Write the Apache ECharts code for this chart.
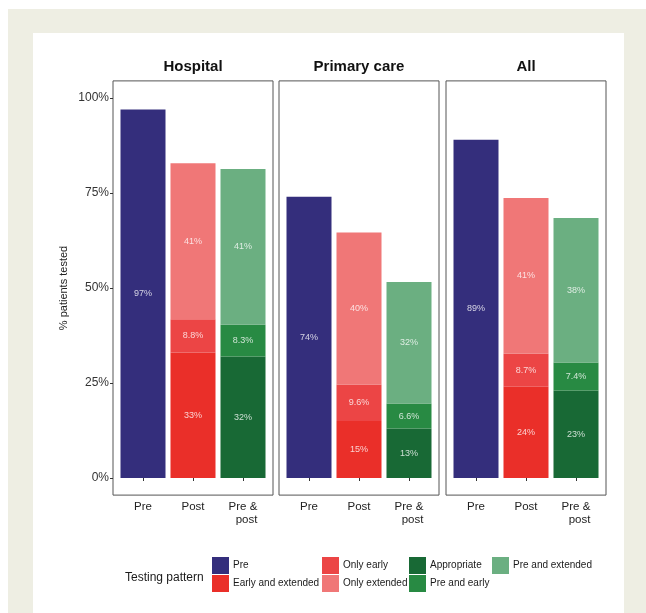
<!DOCTYPE html>
<html>
<head>
<meta charset="utf-8">
<script src="https://cdn.jsdelivr.net/npm/echarts@6/dist/echarts.min.js"></script>
<style>
  html, body { margin: 0; padding: 0; background: #ffffff; }
  #frame { position: absolute; left: 8px; top: 9px; width: 638px; height: 604px; background: #eeeee3; }
  #card { position: absolute; left: 33px; top: 33px; width: 591px; height: 580px; background: #ffffff; }
  #chart { position: absolute; left: 0; top: 0; width: 646px; height: 613px; }
</style>
</head>
<body>
<div id="frame"></div>
<div id="card"></div>
<div id="chart"></div>
<script>
// Share of patients tested, by setting and timing of testing
const panels = ['Hospital', 'Primary care', 'All'];
const categories = ['Pre', 'Post', 'Pre &\npost'];
const yTicks = [0, 25, 50, 75, 100];

// values per panel: [Hospital, Primary care, All]
const pre = [97, 74, 89];
const earlyExtended = [33, 15, 24];
const onlyEarly = [8.8, 9.6, 8.7];
const onlyExtended = [41, 40, 41];
const appropriate = [32, 13, 23];
const preEarly = [8.3, 6.6, 7.4];
const preExtended = [41, 32, 38];

// stacking order, bottom to top, and the category each group sits on
const groups = [
  { name: 'Pre', values: pre, cat: 0, color: '#342e7c' },
  { name: 'Early and extended', values: earlyExtended, cat: 1, color: '#ea2f29' },
  { name: 'Only early', values: onlyEarly, cat: 1, color: '#ec4545' },
  { name: 'Only extended', values: onlyExtended, cat: 1, color: '#f07777' },
  { name: 'Appropriate', values: appropriate, cat: 2, color: '#186935' },
  { name: 'Pre and early', values: preEarly, cat: 2, color: '#288a43' },
  { name: 'Pre and extended', values: preExtended, cat: 2, color: '#6baf81' }
];

const FONT = '"Liberation Sans", Arial, Helvetica, sans-serif';
const panelLeft = [113, 279, 446];
const panelWidth = 160;
const panelTop = 80.9;
const panelHeight = 414.2;

const grids = [], xAxes = [], yAxes = [], series = [], graphics = [];

panels.forEach((panel, i) => {
  grids.push({
    left: panelLeft[i], top: panelTop, width: panelWidth, height: panelHeight,
    show: true, borderColor: '#555555', borderWidth: 1, backgroundColor: 'transparent'
  });
  // positions 1..3 on a padded value scale, one per category
  xAxes.push({
    type: 'value', gridIndex: i, min: 0.4, max: 3.6,
    splitLine: { show: false }, axisLine: { show: false },
    axisTick: { show: true, customValues: [1, 2, 3], length: 3, lineStyle: { color: '#333' } },
    axisLabel: {
      customValues: [1, 2, 3], margin: 5, fontSize: 11.5, lineHeight: 13,
      color: '#222', fontFamily: FONT,
      formatter: v => categories[Math.round(v) - 1].split('\n').map(s => '{r|' + s + '}').join('\n'),
      rich: { r: { align: 'right', fontSize: 11.5, lineHeight: 13, color: '#222', fontFamily: FONT } }
    }
  });
  yAxes.push({
    type: 'value', gridIndex: i, min: -4.5, max: 104.5,
    splitLine: { show: false }, axisLine: { show: false },
    name: i === 0 ? '% patients tested' : '',
    nameLocation: 'middle', nameGap: 44, nameRotate: 90,
    nameTextStyle: { fontSize: 11, color: '#222', fontFamily: FONT },
    axisTick: { show: i === 0, customValues: yTicks, length: 3, lineStyle: { color: '#333' } },
    axisLabel: {
      show: i === 0, customValues: yTicks, margin: 4, fontSize: 12,
      color: '#333', fontFamily: FONT, formatter: v => v + '%'
    }
  });
  groups.forEach(g => {
    series.push({
      type: 'bar', name: g.name, xAxisIndex: i, yAxisIndex: i,
      stack: 'panel' + i, barWidth: '90%',
      // column 0 is the share (stacked), column 1 the category position
      encode: { x: 1, y: 0 },
      itemStyle: { color: g.color },
      label: {
        show: true, position: 'inside', fontSize: 9, fontFamily: FONT,
        color: 'rgba(255,255,255,0.78)',
        formatter: p => p.value[0] + '%'
      },
      data: categories.map((c, k) => [k === g.cat ? g.values[i] : '-', k + 1])
    });
  });
  graphics.push({
    type: 'text', x: panelLeft[i] + panelWidth / 2, y: 67,
    style: { text: panel, textAlign: 'center', textVerticalAlign: 'middle',
             font: 'bold 15px ' + FONT, fill: '#111' }
  });
});

graphics.push({
  type: 'text', x: 125, y: 578,
  style: { text: 'Testing pattern', textAlign: 'left', textVerticalAlign: 'middle',
           font: '12px ' + FONT, fill: '#1a1a1a' }
});

const legendCols = [
  ['Pre', 'Early and extended'],
  ['Only early', 'Only extended'],
  ['Appropriate', 'Pre and early'],
  ['Pre and extended']
];
const legendLeft = [212, 322, 409, 492];
const legends = legendCols.map((names, c) => ({
  data: names, orient: 'vertical', left: legendLeft[c], top: 557,
  padding: 0, itemGap: 1, itemWidth: 17, itemHeight: 17, icon: 'rect',
  selectedMode: false,
  textStyle: { fontSize: 10, color: '#1a1a1a', fontFamily: FONT, padding: [0, 0, 0, -1] }
}));

const chart = echarts.init(document.getElementById('chart'), null, { renderer: 'canvas' });
chart.setOption({
  animation: false,
  backgroundColor: 'transparent',
  grid: grids,
  xAxis: xAxes,
  yAxis: yAxes,
  legend: legends,
  series: series,
  graphic: graphics
});
</script>
</body>
</html>
